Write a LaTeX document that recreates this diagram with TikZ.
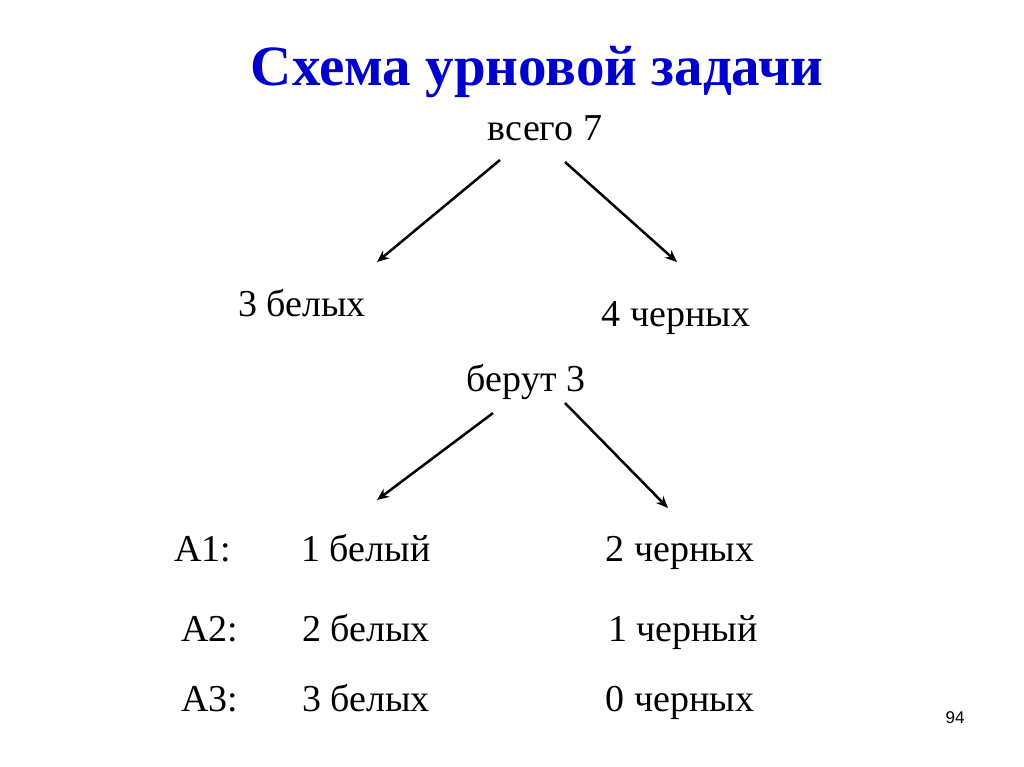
\documentclass[tikz,border=0pt]{standalone}
\usepackage{fontspec}
\setmainfont{Liberation Serif}
\newfontfamily\numfont{Liberation Sans}
\usetikzlibrary{arrows.meta}
\begin{document}
\begin{tikzpicture}[x=1pt,y=-1pt,
  lbl/.style={font=\fontsize{38}{44}\selectfont,inner sep=0pt,text height=26pt,text depth=8pt},
  arr/.style={line width=2.5pt,-{Stealth[length=12pt,width=10pt]}}]
\useasboundingbox (0,0) rectangle (1024,767);
\node[font=\fontsize{57}{64}\selectfont\bfseries,text=blue!80!black,inner sep=0pt] (t) at (537,72) {Схема урновой задачи};
\node[lbl] (all) at (545,132) {всего 7};
\coordinate (a1s) at (500,160); \coordinate (a1e) at (377,262);
\coordinate (a2s) at (565,162); \coordinate (a2e) at (677,262);
\draw[arr] (a1s) -- (a1e);
\draw[arr] (a2s) -- (a2e);
\node[lbl] (w) at (302,307) {3 белых};
\node[lbl] (b) at (676,317) {4 черных};
\node[lbl] (take) at (526,382) {берут 3};
\coordinate (b1s) at (493,413); \coordinate (b1e) at (377,500);
\coordinate (b2s) at (565,403); \coordinate (b2e) at (668,508);
\draw[arr] (b1s) -- (b1e);
\draw[arr] (b2s) -- (b2e);
\node[lbl] (A1) at (203,552) {A1:};
\node[lbl] (A1w) at (366,552) {1 белый};
\node[lbl] (A1b) at (680,552) {2 черных};
\node[lbl] (A2) at (210,632) {A2:};
\node[lbl] (A2w) at (366,632) {2 белых};
\node[lbl] (A2b) at (683,632) {1 черный};
\node[lbl] (A3) at (210,702) {A3:};
\node[lbl] (A3w) at (366,702) {3 белых};
\node[lbl] (A3b) at (680,702) {0 черных};
\node[font=\numfont\fontsize{17}{20}\selectfont,inner sep=0pt] (n) at (955,718) {94};
\end{tikzpicture}
\end{document}
